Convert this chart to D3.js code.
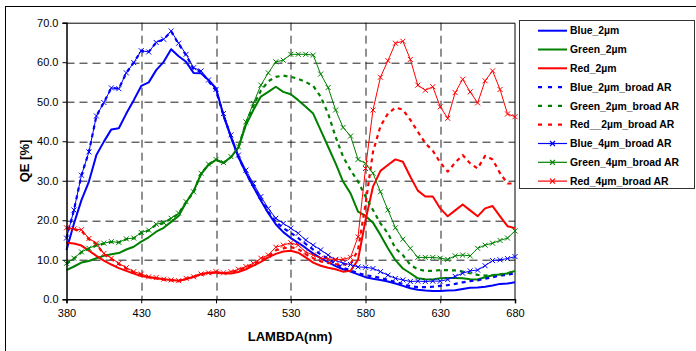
<!DOCTYPE html>
<html>
<head>
<meta charset="utf-8">
<script src="https://cdn.jsdelivr.net/npm/d3@7"></script>
<style>
  body { margin: 0; background: #fff; }
  text { font-family: "Liberation Sans", Arial, sans-serif; }
</style>
</head>
<body>
<div id="chart-area"></div>
<script>
/*
*    QE vs wavelength
*/

var lambda = [380,385,390,395,400,405,410,415,420,425,430,435,440,445,450,455,460,465,470,475,480,
              485,490,495,500,505,510,515,520,525,530,535,540,545,550,555,560,565,570,575,580,
              585,590,595,600,605,610,615,620,625,630,635,640,645,650,655,660,665,670,675,680];

var blue2 = [12.5,19.2,25.1,29.8,36.5,39.9,43.0,43.3,47.0,50.4,54.0,54.9,58.0,60.1,63.3,61.5,60.1,57.3,57.2,55.5,53.4,
             46.5,41.0,36.0,32.0,28.5,25.0,21.8,19.0,17.0,15.5,14.3,13.0,11.6,10.4,9.4,8.4,7.6,7.0,6.3,5.6,
             5.2,4.9,4.5,4.0,3.4,2.8,2.4,2.2,2.1,2.1,2.2,2.3,2.6,2.9,3.0,3.2,3.5,3.9,4.0,4.3];
var green2 = [7.4,8.3,9.3,9.7,10.4,11.0,11.4,11.7,12.6,13.3,14.6,15.7,17.1,18.1,19.6,21.1,24.5,27.4,31.7,34.0,35.3,
              34.5,36.0,38.4,44.1,47.9,51.3,52.5,53.8,52.5,51.9,50.4,48.7,47.0,42.8,38.6,34.4,29.8,26.8,22.2,21.1,
              19.4,16.3,12.9,9.9,7.8,6.6,5.3,5.1,5.0,5.3,5.4,5.4,5.3,5.1,5.0,5.6,6.1,6.3,6.5,7.2];
var red2 = [14.3,14.1,13.6,12.3,11.0,9.8,8.8,7.9,7.2,6.5,5.9,5.6,5.3,5.1,4.9,4.7,5.1,5.7,6.4,6.7,6.8,
            6.6,6.5,6.9,7.6,8.5,9.5,10.6,11.5,12.1,12.3,11.8,10.6,9.3,8.5,8.0,7.6,7.0,7.2,10.0,20.0,
            28.5,32.5,34.0,35.4,34.8,31.0,27.5,26.0,26.0,23.0,21.0,22.5,24.0,22.5,21.0,23.0,23.6,21.0,18.5,18.0];

var blue2AR = [15.5,22.6,31.4,37.3,46.4,49.8,53.5,53.3,57.3,59.9,62.9,62.6,65.0,65.8,67.8,64.6,61.8,58.3,57.6,55.2,52.8,
               46.6,41.2,36.0,32.0,28.6,25.3,22.2,19.6,18.0,16.8,15.5,14.0,12.6,11.4,10.2,9.0,8.0,7.3,6.6,6.1,
               5.8,5.4,4.9,4.4,3.9,3.3,3.1,3.1,3.2,3.4,3.6,3.9,4.3,4.6,4.8,5.2,5.6,6.0,6.2,6.6];
var green2AR = [9.0,10.3,11.9,12.8,13.6,14.1,14.5,14.4,15.2,15.4,16.8,17.4,18.9,19.3,20.4,21.7,24.6,27.1,31.8,34.1,35.3,
                34.5,36.0,38.5,44.6,49.0,52.8,55.2,56.3,56.6,56.3,55.8,55.0,54.0,51.3,47.0,41.1,36.1,32.7,29.8,26.0,
                22.6,19.2,16.7,12.9,11.2,8.7,7.6,7.2,7.2,7.4,7.4,7.3,7.0,6.6,6.2,6.0,6.1,6.3,6.6,7.2];
var red2AR = [18.0,17.7,17.3,15.2,13.9,11.4,10.2,8.9,7.8,6.8,6.2,5.6,5.3,5.0,4.8,4.6,5.2,5.6,6.2,6.5,6.8,
              6.5,6.8,7.4,8.0,8.8,9.9,10.8,12.4,12.9,13.2,12.7,11.4,10.4,9.6,9.2,8.9,8.8,9.0,12.5,24.0,
              37.3,43.8,47.0,48.5,48.0,45.4,42.4,39.5,37.6,34.6,32.3,34.6,36.5,34.4,33.1,36.3,35.4,31.9,29.3,29.3];

var blue4 = [15.5,22.6,31.4,37.3,46.4,49.8,53.5,53.3,57.3,59.9,62.9,62.6,65.0,65.8,67.9,64.8,62.0,58.6,57.8,55.5,53.1,
             47.0,41.6,36.5,32.7,29.3,26.0,23.0,20.5,19.2,18.0,16.7,15.0,13.7,12.5,11.2,9.9,9.1,8.8,8.2,8.1,
             7.8,7.0,6.1,5.3,4.9,4.5,4.6,4.5,4.6,4.6,5.0,5.8,6.6,7.2,7.4,8.5,9.8,10.0,10.3,10.8];
var green4 = [9.1,10.4,12.0,12.9,13.7,14.2,14.6,14.4,15.3,15.5,16.9,17.5,19.0,19.4,20.5,21.8,24.7,27.2,31.9,34.2,35.4,
              34.6,36.1,38.6,44.9,49.6,54.2,57.3,60.1,60.5,62.0,62.0,62.0,61.8,57.0,53.6,47.9,43.5,41.3,35.4,34.4,
              31.9,27.2,22.6,18.1,15.2,12.9,10.6,10.6,10.6,10.4,10.1,11.0,11.2,11.0,12.9,13.7,14.2,14.9,15.5,17.3];
var red4 = [18.1,17.8,17.6,15.4,14.2,11.6,10.4,9.1,8.0,7.0,6.4,5.7,5.5,5.1,4.9,4.7,5.3,5.7,6.4,6.7,7.0,
            6.7,7.0,7.6,8.3,9.1,10.4,11.2,13.2,13.7,14.3,13.7,12.0,11.2,10.4,10.2,10.1,10.1,10.6,15.8,33.1,
            47.9,56.2,60.4,64.8,65.3,60.7,54.2,52.9,53.8,48.7,45.8,52.3,55.7,52.5,49.7,55.3,57.8,53.1,46.9,46.2];

var xTicks = [380, 430, 480, 530, 580, 630, 680];
var yTicks = [0, 10, 20, 30, 40, 50, 60, 70];

var series = [
    {name: "Blue_2µm", values: blue2, color: "#0000ff", kind: "solid"},
    {name: "Green_2µm", values: green2, color: "#008000", kind: "solid"},
    {name: "Red_2µm", values: red2, color: "#ff0000", kind: "solid"},
    {name: "Blue_2µm_broad AR", values: blue2AR, color: "#0000ff", kind: "dash"},
    {name: "Green_2µm_broad AR", values: green2AR, color: "#008000", kind: "dash"},
    {name: "Red__2µm_broad AR", values: red2AR, color: "#ff0000", kind: "dash"},
    {name: "Blue_4µm_broad AR", values: blue4, color: "#0000ff", kind: "cross"},
    {name: "Green_4µm_broad AR", values: green4, color: "#008000", kind: "cross"},
    {name: "Red_4µm_broad AR", values: red4, color: "#ff0000", kind: "cross"}
];

var W = 696, H = 351;
var margin = {left: 66.5, top: 22.7, right: 181, bottom: 51.7};
var width = W - margin.left - margin.right;
var height = H - margin.top - margin.bottom;

var svg = d3.select("#chart-area")
  .append("svg")
    .attr("width", W)
    .attr("height", H);

svg.append("rect")
    .attr("width", W).attr("height", H)
    .attr("fill", "#fff");

// outer chart frame
svg.append("rect")
    .attr("x", 5.5).attr("y", 6.5)
    .attr("width", W + 20).attr("height", H + 20)
    .attr("fill", "none")
    .attr("stroke", "#000")
    .attr("stroke-width", 1);

var g = svg.append("g")
    .attr("transform", "translate(" + margin.left + ", " + margin.top + ")");

var x = d3.scaleLinear()
    .domain([380, 680])
    .range([0, width]);

var y = d3.scaleLinear()
    .domain([0, 70])
    .range([height, 0]);

// grid
g.selectAll(".hgrid").data(yTicks.filter((d) => d > 0 && d < 70))
  .enter().append("line")
    .attr("class", "hgrid")
    .attr("x1", 0).attr("x2", width)
    .attr("y1", (d) => Math.round(y(d)) + 0.5)
    .attr("y2", (d) => Math.round(y(d)) + 0.5)
    .attr("stroke", "#222")
    .attr("stroke-dasharray", "8,5");

g.selectAll(".vgrid").data(xTicks.filter((d) => d > 380 && d < 680))
  .enter().append("line")
    .attr("class", "vgrid")
    .attr("y1", 0).attr("y2", height)
    .attr("x1", (d) => Math.round(x(d)) + 0.5)
    .attr("x2", (d) => Math.round(x(d)) + 0.5)
    .attr("stroke", "#222")
    .attr("stroke-dasharray", "8,5");

// plot border top/right
g.append("path")
    .attr("d", "M0," + 0.5 + "H" + width + "V" + height)
    .attr("fill", "none")
    .attr("stroke", "#000")
    .attr("stroke-width", 1);

var line = d3.line()
    .x((d, i) => x(lambda[i]))
    .y((d) => y(d));

var lines = g.append("g");

series.forEach((s) => {
    var p = lines.append("path")
        .attr("d", line(s.values))
        .attr("fill", "none")
        .attr("stroke", s.color)
        .attr("stroke-linejoin", "round");
    if (s.kind === "solid") {
        p.attr("stroke-width", 2);
    } else if (s.kind === "dash") {
        p.attr("stroke-width", 2.2).attr("stroke-dasharray", "4,4");
    } else {
        p.attr("stroke-width", 1);
        lines.selectAll(null).data(s.values)
          .enter().append("path")
            .attr("transform", (d, i) => "translate(" + x(lambda[i]) + "," + y(d) + ")")
            .attr("d", "M-2.5,-2.5L2.5,2.5M-2.5,2.5L2.5,-2.5")
            .attr("stroke", s.color)
            .attr("stroke-width", 1);
    }
});

// axes
var bottomAxis = d3.axisBottom(x)
    .tickValues(xTicks)
    .tickSize(4)
    .tickPadding(6)
    .tickFormat(d3.format("d"));
var xg = g.append("g")
    .attr("class", "bottom axis")
    .attr("transform", "translate(0, " + height + ")")
    .call(bottomAxis);

var leftAxis = d3.axisLeft(y)
    .tickValues(yTicks)
    .tickSize(4)
    .tickPadding(4)
    .tickFormat(d3.format(".1f"));
var yg = g.append("g")
    .attr("class", "left axis")
    .call(leftAxis);

[xg, yg].forEach((a) => {
    a.select(".domain").attr("stroke", "#000").attr("stroke-width", 1.5);
    a.selectAll("line").attr("stroke", "#000");
    a.selectAll("text")
        .attr("font-size", "11px")
        .attr("fill", "#000")
        .style("font-family", "'Liberation Sans', Arial, sans-serif");
});

g.append("text")
    .attr("x", 290 - margin.left)
    .attr("y", 341.5 - margin.top)
    .attr("font-size", "13px")
    .attr("font-weight", "bold")
    .attr("text-anchor", "middle")
    .text("LAMBDA(nm)");

g.append("text")
    .attr("transform", "translate(" + (28.5 - margin.left) + "," + (161 - margin.top) + ") rotate(-90)")
    .attr("font-size", "13px")
    .attr("font-weight", "bold")
    .attr("text-anchor", "middle")
    .text("QE [%]");

// legend
var legend = svg.append("g");
legend.append("rect")
    .attr("x", 519.5).attr("y", 20.5)
    .attr("width", 175).attr("height", 168)
    .attr("fill", "#fff")
    .attr("stroke", "#333")
    .attr("stroke-width", 1);

var items = legend.selectAll(".item").data(series)
  .enter().append("g")
    .attr("class", "item")
    .attr("transform", (d, i) => "translate(0," + (30.7 + i * 18.8) + ")");

items.append("line")
    .attr("x1", 538).attr("x2", 567)
    .attr("stroke", (d) => d.color)
    .attr("stroke-width", (d) => d.kind === "solid" ? 2 : d.kind === "dash" ? 2.2 : 1.2)
    .attr("stroke-dasharray", (d) => d.kind === "dash" ? "4,6" : null);

items.filter((d) => d.kind === "cross").append("path")
    .attr("d", "M550,-2.5L555,2.5M550,2.5L555,-2.5")
    .attr("stroke", (d) => d.color)
    .attr("stroke-width", 1.2);

items.append("text")
    .attr("x", 570)
    .attr("y", 3.7)
    .attr("font-size", "10.4px")
    .attr("font-weight", "bold")
    .text((d) => d.name);
</script>
</body>
</html>
